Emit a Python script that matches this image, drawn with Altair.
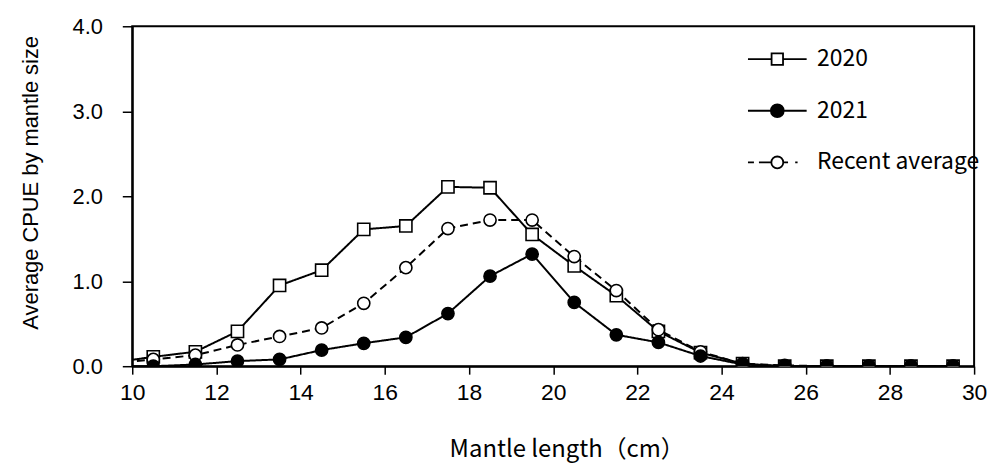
import altair as alt
import pandas as pd

# Mantle length class midpoints (cm)
length_cm = [9.5, 10.5, 11.5, 12.5, 13.5, 14.5, 15.5, 16.5, 17.5, 18.5, 19.5,
             20.5, 21.5, 22.5, 23.5, 24.5, 25.5, 26.5, 27.5, 28.5, 29.5]
cpue_2020 = [0.04, 0.11, 0.17, 0.41, 0.95, 1.13, 1.61, 1.65, 2.11, 2.10, 1.55,
             1.18, 0.83, 0.41, 0.16, 0.03, 0.0, 0.0, 0.0, 0.0, 0.0]
cpue_2021 = [0.0, 0.0, 0.02, 0.06, 0.08, 0.19, 0.27, 0.34, 0.62, 1.06, 1.32,
             0.75, 0.37, 0.28, 0.12, 0.02, 0.0, 0.0, 0.0, 0.0, 0.0]
cpue_recent = [0.03, 0.08, 0.13, 0.25, 0.35, 0.45, 0.74, 1.16, 1.62, 1.72, 1.72,
               1.29, 0.89, 0.43, 0.17, 0.03, 0.01, 0.0, 0.0, 0.0, 0.0]

series_names = ["2020", "2021", "Recent average"]
x_ticks = [10, 12, 14, 16, 18, 20, 22, 24, 26, 28, 30]
y_ticks = [0, 1, 2, 3, 4]

rows = []
for name, vals in [("2020", cpue_2020), ("Recent average", cpue_recent), ("2021", cpue_2021)]:
    for x, v in zip(length_cm, vals):
        rows.append({"length": x, "cpue": v, "series": name})
df = pd.DataFrame(rows)

x_enc = alt.X(
    "length:Q",
    scale=alt.Scale(domain=[10, 30], nice=False, zero=False),
    axis=alt.Axis(
        values=x_ticks, format="d", title="Mantle length（cm）", grid=False,
        tickSize=8, tickColor="black", tickWidth=1.5,
        domainColor="black", domainWidth=2, labelFlush=False,
        labelFont="Liberation Sans", labelFontSize=23, labelColor="black", labelPadding=8,
        titleFont="Noto Sans CJK JP", titleFontSize=24, titleFontWeight="normal",
        titleColor="black", titleX=437, titleY=91, titleBaseline="alphabetic",
    ),
)
y_enc = alt.Y(
    "cpue:Q",
    scale=alt.Scale(domain=[0, 4], nice=False),
    axis=alt.Axis(
        values=y_ticks, format=".1f", title="Average CPUE by mantle size", grid=False,
        tickSize=10, tickColor="black", tickWidth=1.5,
        domainColor="black", domainWidth=2,
        labelFont="Liberation Sans", labelFontSize=22, labelColor="black", labelPadding=20,
        titleFont="Liberation Sans", titleFontSize=22, titleFontWeight="normal",
        titleColor="black", titleX=-95, titleY=157, titleBaseline="alphabetic", titleAngle=270,
    ),
)

lines = alt.Chart(df).mark_line(clip=True, color="black", strokeWidth=2).encode(
    x=x_enc, y=y_enc, detail="series:N",
    strokeDash=alt.StrokeDash(
        "series:N",
        scale=alt.Scale(domain=series_names, range=[[1, 0], [1, 0], [8, 5]]),
        legend=None,
    ),
)

points = alt.Chart(df).mark_point(
    clip=True, filled=True, stroke="black", strokeWidth=1.6, opacity=1, size=150
).encode(
    x=x_enc, y=y_enc,
    shape=alt.Shape("series:N", scale=alt.Scale(domain=series_names, range=["square", "circle", "circle"]), legend=None),
    fill=alt.Fill("series:N", scale=alt.Scale(domain=series_names, range=["white", "black", "white"]), legend=None),
)

p2020 = "M-1.23,0H-0.24M0.24,0H1.23M-0.24,-0.24H0.24V0.24H-0.24Z"
p2021 = "M-1.23,0H1.23M-0.27,0A0.27,0.27,0,1,0,0.27,0A0.27,0.27,0,1,0,-0.27,0Z"
precent = ("M-1.23,0H-0.98M-0.77,0H-0.25M0.25,0H0.45M0.75,0H0.85"
           "M-0.25,0A0.25,0.25,0,1,0,0.25,0A0.25,0.25,0,1,0,-0.25,0Z")

legend_def = alt.Legend(
    title=None, orient="none", legendX=624, legendY=8, padding=0, offset=0,
    labelFont="Noto Sans CJK JP", labelFontSize=23, labelColor="black",
    labelOffset=15, labelLimit=400, rowPadding=15,
    symbolSize=2304, symbolStrokeWidth=1.8,
)

legend_layer = alt.Chart(df).transform_calculate(hidden="-1").mark_point(
    clip=True, filled=True, stroke="black", strokeWidth=1.8, opacity=1, size=2304
).encode(
    x=x_enc,
    y=alt.Y("hidden:Q"),
    shape=alt.Shape("series:N", scale=alt.Scale(domain=series_names, range=[p2020, p2021, precent]), legend=legend_def),
    fill=alt.Fill("series:N", scale=alt.Scale(domain=series_names, range=["white", "black", "white"]), legend=legend_def),
)

chart = (
    alt.layer(lines, points, legend_layer)
    .resolve_scale(shape="independent", fill="independent")
    .properties(
        width=847, height=342,
        autosize=alt.AutoSizeParams(type="none"),
        padding={"left": 125, "top": 17, "right": 18, "bottom": 97},
        background="white",
    )
    .configure_view(stroke="black", strokeWidth=2)
)

chart.save("out.html", embed_options={"renderer": "svg", "actions": False})
